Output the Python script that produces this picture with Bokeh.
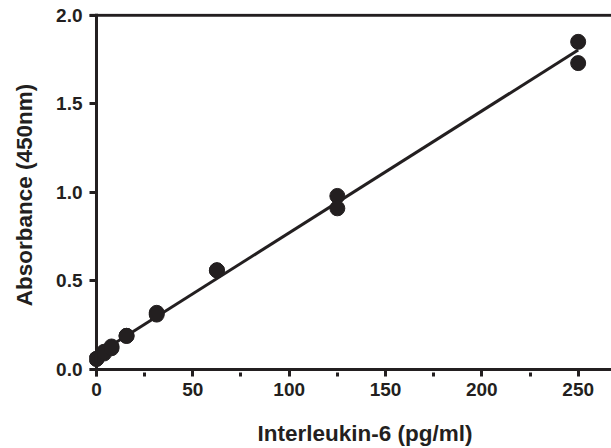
import numpy as np
from bokeh.plotting import figure
from bokeh.models import Span, FixedTicker, Range1d, PrintfTickFormatter, Title
from bokeh.embed import file_html
from bokeh.resources import INLINE

conc = [0, 0, 3.9, 3.9, 7.8, 7.8, 15.6, 15.6, 31.25, 31.25, 62.5, 62.5, 125, 125, 250, 250]
absorb = [0.06, 0.06, 0.09, 0.10, 0.13, 0.12, 0.19, 0.19, 0.32, 0.31, 0.56, 0.56, 0.98, 0.91, 1.85, 1.73]
x_ticks = [0, 50, 100, 150, 200, 250]
x_minor = [25, 75, 125, 175, 225]
y_ticks = [0.0, 0.5, 1.0, 1.5, 2.0]

INK = "#231F20"
FONT = "Liberation Sans"

p = figure(width=611, height=448, output_backend="svg", toolbar_location=None,
           x_range=Range1d(-3.63, 267.3), y_range=Range1d(-0.0395, 2.01),
           min_border_left=89, min_border_right=0, min_border_top=13, min_border_bottom=72)
p.outline_line_color = None
p.xgrid.visible = False
p.ygrid.visible = False

slope, intercept = np.polyfit(conc, absorb, 1)
fx = np.array([min(conc), max(conc)])
p.line(fx, slope * fx + intercept, line_color=INK, line_width=3)
p.scatter(conc, absorb, size=15, color=INK)

for loc, dim in [(0, "height"), (0, "width"), (2.0, "width")]:
    p.add_layout(Span(location=loc, dimension=dim, line_color=INK, line_width=3))

for ax in (p.xaxis[0], p.yaxis[0]):
    ax.axis_line_color = None
    ax.major_tick_in = 7
    ax.major_tick_out = 0
    ax.major_tick_line_width = 3
    ax.major_tick_line_color = INK
    ax.major_label_text_font = FONT
    ax.major_label_text_font_style = "bold"
    ax.major_label_text_font_size = "19px"
    ax.major_label_text_color = INK
    ax.axis_label_text_font = FONT
    ax.axis_label_text_font_style = "bold"
    ax.axis_label_text_font_size = "22.5px"
    ax.axis_label_text_color = INK

p.xaxis[0].ticker = FixedTicker(ticks=x_ticks, minor_ticks=x_minor)
p.xaxis[0].minor_tick_in = 4
p.xaxis[0].minor_tick_out = 0
p.xaxis[0].minor_tick_line_width = 3
p.xaxis[0].minor_tick_line_color = INK
p.xaxis[0].major_label_standoff = 6

xtitle = Title(text="Interleukin-6 (pg/ml)", align="left", offset=168,
               text_font=FONT, text_font_style="bold", text_font_size="22.5px",
               text_color=INK, standoff=0,
               padding=dict(left=0, right=0, top=20, bottom=0))
p.add_layout(xtitle, "below")

p.yaxis[0].ticker = FixedTicker(ticks=y_ticks)
p.yaxis[0].minor_tick_line_color = None
p.yaxis[0].formatter = PrintfTickFormatter(format="%.1f")
p.yaxis[0].major_label_standoff = 7
p.yaxis[0].axis_label = "Absorbance (450nm)"
p.yaxis[0].axis_label_standoff = 16

open("out.html", "w").write(file_html(p, INLINE))
